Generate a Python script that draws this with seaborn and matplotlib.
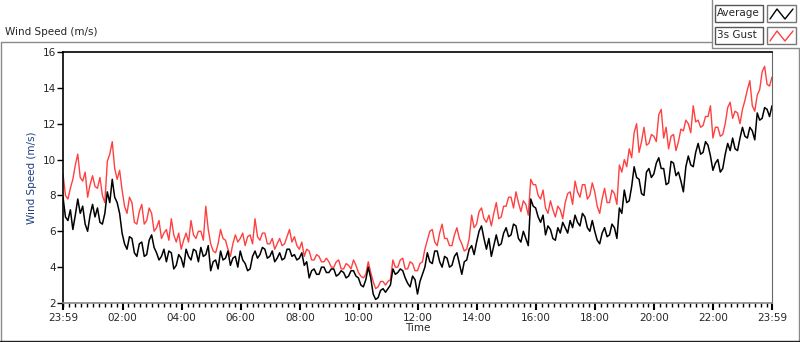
import numpy as np
import pandas as pd
import matplotlib
matplotlib.use("Agg")
import matplotlib.pyplot as plt
import matplotlib.dates as mdates
from matplotlib.lines import Line2D
from matplotlib.patches import Rectangle
import seaborn as sns

# 5-minute readings, 23:59 -> 23:59 next day (twelve values per hour)
average = [
    7.9, 6.8, 6.6, 7.2, 6.1, 6.9, 7.8, 7.0, 7.4, 6.4, 6.0, 6.9,
    7.5, 6.8, 7.3, 6.5, 6.4, 7.0, 8.2, 7.6, 8.9, 7.9, 7.6, 7.0,
    5.9, 5.3, 5.0, 5.7, 5.6, 4.8, 4.6, 5.3, 5.4, 4.6, 4.7, 5.5,
    5.8, 5.1, 4.8, 4.4, 4.6, 5.0, 4.3, 4.9, 4.8, 3.9, 4.1, 4.7,
    4.5, 4.0, 5.0, 4.6, 4.4, 5.0, 4.9, 4.3, 5.1, 4.6, 4.7, 5.2,
    3.8, 4.3, 4.4, 3.9, 4.9, 4.4, 4.5, 4.9, 4.1, 4.5, 4.6, 4.0,
    4.9, 4.4, 4.2, 3.8, 3.9, 4.6, 4.9, 4.5, 4.7, 5.1, 5.0, 4.5,
    4.6, 4.9, 4.3, 4.5, 4.8, 4.4, 4.5, 5.0, 5.0, 4.6, 4.7, 4.4,
    4.5, 4.8, 4.1, 4.3, 3.4, 3.8, 3.9, 3.6, 3.6, 4.0, 4.0, 3.7,
    3.7, 3.9, 3.9, 3.5, 3.6, 3.8, 3.7, 3.4, 3.5, 3.8, 3.8, 3.5,
    3.4, 3.0, 2.9, 3.3, 4.0, 3.4, 2.5, 2.2, 2.3, 2.7, 2.8, 2.6,
    2.8, 3.0, 3.9, 3.6, 3.7, 3.9, 3.8, 3.4, 3.1, 2.9, 3.5, 3.3,
    2.5, 3.2, 3.6, 4.0, 4.8, 4.3, 4.2, 4.9, 4.9, 4.3, 4.0, 4.6,
    4.5, 4.0, 4.1, 4.6, 4.8, 4.2, 3.6, 4.3, 4.4, 5.0, 5.2, 4.7,
    5.4, 6.0, 6.3, 5.6, 5.0, 5.6, 4.6, 5.2, 5.8, 5.2, 5.3, 5.9,
    6.2, 5.7, 5.8, 6.4, 6.3, 5.6, 5.4, 6.0, 5.6, 5.2, 7.8, 7.4,
    7.3, 6.8, 6.5, 6.9, 5.8, 6.3, 6.1, 5.6, 5.5, 6.2, 5.9, 6.5,
    6.2, 5.9, 6.6, 6.2, 6.9, 6.5, 6.3, 7.0, 6.8, 6.2, 6.0, 6.6,
    6.0, 5.5, 5.3, 5.9, 6.2, 5.7, 5.8, 6.4, 6.2, 5.6, 7.3, 7.0,
    8.3, 7.6, 7.7, 8.5, 9.6, 9.0, 8.9, 8.1, 8.0, 9.3, 9.5, 9.0,
    9.2, 9.8, 10.1, 9.5, 9.5, 8.6, 8.7, 9.9, 9.8, 9.1, 9.3, 8.8,
    8.2, 9.6, 10.2, 9.7, 9.6, 10.4, 10.9, 10.3, 10.4, 11.0, 10.8, 10.2,
    9.4, 9.8, 10.0, 9.3, 9.5, 10.3, 10.9, 10.5, 11.2, 10.6, 10.5, 11.2,
    11.8, 11.3, 11.2, 11.8, 11.6, 11.1, 12.6, 12.2, 12.3, 12.9, 12.8, 12.4,
    13.0,
]

gust = [
    9.2, 8.0, 7.8, 8.4, 8.9, 9.7, 10.3, 9.0, 8.8, 9.3, 7.9, 8.6,
    9.1, 8.5, 8.4, 9.0, 8.0, 7.6, 9.9, 10.3, 11.0, 9.5, 8.9, 9.4,
    8.3, 7.4, 7.0, 7.9, 7.6, 6.5, 6.4, 7.1, 7.5, 6.4, 6.6, 7.3,
    7.0, 6.0, 6.2, 6.6, 5.6, 5.9, 6.1, 5.5, 6.7, 5.8, 5.4, 5.9,
    5.0, 5.5, 5.9, 5.4, 6.6, 5.8, 5.6, 6.0, 6.0, 5.5, 7.4, 6.1,
    5.3, 4.9, 4.8, 5.3, 6.1, 5.6, 5.5, 5.0, 4.6, 5.3, 5.8, 5.4,
    5.6, 5.9, 5.2, 5.7, 5.8, 5.3, 6.7, 5.7, 5.5, 5.9, 5.9, 5.3,
    5.3, 5.6, 5.0, 5.3, 5.6, 5.2, 5.3, 5.7, 6.1, 5.4, 5.7, 5.2,
    5.0, 5.4, 4.6, 5.0, 4.9, 4.4, 4.4, 4.7, 4.6, 4.3, 4.3, 4.5,
    4.3, 4.0, 4.0, 4.3, 4.4, 3.9, 3.9, 4.2, 4.1, 3.9, 4.4, 4.1,
    3.7, 3.5, 3.4, 3.6, 4.3, 3.7, 3.2, 2.8, 2.9, 3.2, 3.2, 3.0,
    3.2, 3.3, 4.4, 4.0, 4.0, 4.4, 4.5, 3.9, 3.9, 4.3, 4.2, 3.8,
    3.8, 4.2, 4.3, 5.0, 5.5, 6.0, 6.1, 5.4, 5.2, 5.9, 6.4, 5.6,
    5.6, 5.2, 5.2, 5.8, 6.2, 5.6, 5.3, 4.9, 5.0, 5.6, 6.9, 6.2,
    6.4, 7.1, 7.3, 6.7, 6.5, 6.9, 6.3, 7.0, 7.6, 6.7, 6.8, 7.4,
    7.4, 7.9, 7.9, 7.3, 8.2, 7.6, 7.1, 7.7, 7.5, 6.9, 8.9, 8.6,
    8.6, 8.0, 7.8, 8.3, 7.3, 7.0, 7.7, 7.2, 6.8, 7.4, 7.2, 6.7,
    7.6, 8.1, 8.2, 7.5, 8.8, 8.2, 7.9, 8.6, 8.6, 7.8, 8.0, 8.7,
    8.2, 7.4, 7.0, 7.8, 8.4, 7.6, 7.6, 8.3, 8.1, 7.5, 9.7, 9.3,
    10.0, 9.6, 10.6, 10.1, 11.5, 12.0, 10.4, 11.0, 11.8, 10.8, 10.9, 11.4,
    11.3, 11.0, 12.5, 12.8, 11.2, 11.8, 10.6, 11.3, 11.4, 10.5, 11.0, 11.7,
    11.6, 12.2, 12.0, 11.5, 13.0, 12.1, 12.2, 11.8, 11.9, 12.4, 12.4, 13.0,
    11.2, 11.8, 11.8, 11.3, 11.4, 12.0, 12.9, 13.2, 12.3, 12.7, 12.6, 12.0,
    12.8, 13.3, 13.9, 14.4, 13.0, 12.7, 13.6, 13.9, 14.9, 15.2, 14.2, 14.1,
    14.6,
]

start = pd.Timestamp("2013-01-01 23:59")
end = pd.Timestamp("2013-01-02 23:59")
times = pd.date_range(start, end, periods=len(average))
df = pd.DataFrame({"Time": times, "Average": average, "3s Gust": gust})

sns.set_style("white")
plt.rcParams["font.family"] = ["DejaVu Sans"]
plt.rcParams["font.size"] = 7.5

fig = plt.figure(figsize=(8, 3.42), dpi=100)
ax = fig.add_axes([63 / 800, 39 / 342, 709 / 800, 251 / 342])

sns.lineplot(data=df, x="Time", y="3s Gust", color="#ff4040", lw=1, ax=ax)
sns.lineplot(data=df, x="Time", y="Average", color="black", lw=1.1, ax=ax)

ax.set_xlim(start, end)
ax.set_ylim(2, 16)
ax.set_yticks(range(2, 17, 2))

major = [start] + list(pd.date_range("2013-01-02 02:00", periods=11, freq="2h")) + [end]
ax.set_xticks(major)
ax.xaxis.set_major_formatter(mdates.DateFormatter("%H:%M"))
ax.xaxis.set_minor_locator(mdates.MinuteLocator(byminute=[0, 12, 24, 36, 48]))
ax.tick_params(axis="x", which="major", direction="out", length=5, width=1.5, color="black",
               labelsize=7.5, pad=2, bottom=True)
ax.tick_params(axis="x", which="minor", direction="out", length=3, width=1, color="black", bottom=True)
ax.tick_params(axis="y", which="major", direction="out", length=4, width=1, color="black",
               labelsize=7.5, pad=1, left=True)
ax.set_xlabel("Time", fontsize=7.5, labelpad=0)
ax.set_ylabel("Wind Speed (m/s)", fontsize=7.5, color="#1f3f7f", labelpad=4)

for side in ["left", "top"]:
    ax.spines[side].set_color("black")
    ax.spines[side].set_linewidth(1.2)
ax.spines["right"].set_color("#666666")
ax.spines["bottom"].set_color("#888888")
ax.spines["bottom"].set_linewidth(1.2)

# panel frame and caption
ffig = fig.transFigure
def px(x, y):
    return x / 800, 1 - y / 342
gray = "#8a8a8a"
for (x0, y0), (x1, y1), c in [
    ((1, 42), (712, 42), gray), ((1, 42), (1, 341), gray),
    ((712, 0), (712, 48), gray), ((712, 48), (799, 48), gray),
    ((799, 48), (799, 341), gray), ((0, 341), (800, 341), "#222222"),
]:
    (a, b), (c2, d) = px(x0, y0), px(x1, y1)
    fig.add_artist(Line2D([a, c2], [b, d], transform=ffig, color=c, lw=1))
fig.text(*px(5, 32), "Wind Speed (m/s)", fontsize=7.5, va="center", ha="left")

# legend boxes
for row, (name, col) in enumerate([("Average", "black"), ("3s Gust", "#ff4040")]):
    top = 5 + row * 22
    x0, y0 = px(715, top + 17)
    fig.add_artist(Rectangle((x0, y0), 48 / 800, 17 / 342, transform=ffig,
                             fill=True, facecolor="white", edgecolor="#555555", lw=1))
    fig.text(*px(717, top + 8.5), name, fontsize=7.5, va="center", ha="left")
    x0, y0 = px(767, top + 17)
    fig.add_artist(Rectangle((x0, y0), 29 / 800, 17 / 342, transform=ffig,
                             fill=True, facecolor="white", edgecolor="#777777", lw=1))
    xs = [770, 777, 785, 793]
    ys = [top + 14, top + 4, top + 14, top + 4]
    pts = [px(a, b) for a, b in zip(xs, ys)]
    fig.add_artist(Line2D([p[0] for p in pts], [p[1] for p in pts], transform=ffig,
                          color=col, lw=1))

fig.savefig("out.png", dpi=100)
